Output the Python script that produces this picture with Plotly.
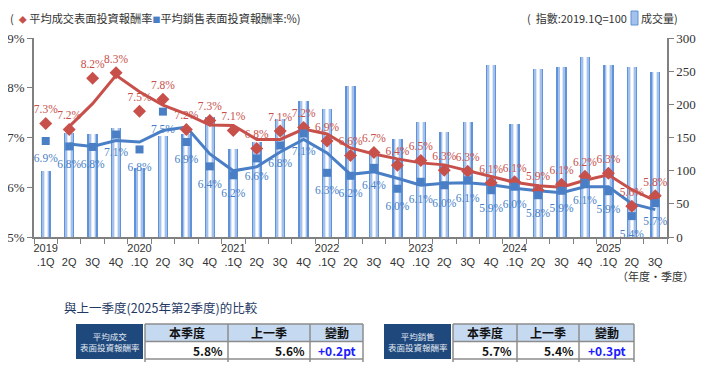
import plotly.graph_objects as go

# ---------------- data ----------------
years = ["2019", "2020", "2021", "2022", "2023", "2024", "2025"]
quarters = ["1Q", "2Q", "3Q", "4Q"]
categories = [f"{y}.{q}" for y in years for q in quarters][:27]

volume_index = [100, 157, 155, 165, 104, 152, 155, 181, 133, 143, 178, 205, 193, 227,
                126, 148, 173, 159, 174, 259, 171, 254, 256, 271, 259, 257, 248]

deal_yield = [7.28, 7.16, 8.19, 8.30, 7.53, 7.77, 7.16, 7.34, 7.14, 6.78, 7.13, 7.20, 6.93, 6.64,
              6.70, 6.44, 6.54, 6.34, 6.32, 6.09, 6.11, 5.94, 6.06, 6.22, 6.28, 5.62, 5.83]
sale_yield = [6.93, 6.82, 6.81, 7.06, 6.76, 7.52, 6.91, 6.42, 6.24, 6.58, 6.84, 7.08, 6.29, 6.23,
              6.39, 5.97, 6.11, 6.04, 6.14, 5.94, 6.01, 5.84, 5.93, 6.09, 5.92, 5.42, 5.68]

deal_trend = [None, 7.22, 7.68, 8.25, 7.92, 7.65, 7.47, 7.25, 7.24, 6.96, 6.96, 7.17, 7.07, 6.79,
              6.67, 6.57, 6.49, 6.45, 6.33, 6.21, 6.10, 6.03, 6.00, 6.14, 6.25, 5.95, 5.73]
sale_trend = [None, 6.87, 6.82, 6.94, 6.91, 7.14, 7.21, 6.67, 6.33, 6.41, 6.71, 6.96, 6.69, 6.26,
              6.31, 6.18, 6.04, 6.08, 6.09, 6.05, 5.98, 5.93, 5.89, 6.01, 6.01, 5.67, 5.55]

left_ticks = [5, 6, 7, 8, 9]
right_ticks = [0, 50, 100, 150, 200, 250, 300]

table_labels = ["平均成交<br>表面投資報酬率", "平均銷售<br>表面投資報酬率"]
table_headers = ["本季度", "上一季", "變動"]
this_quarter = [5.8, 5.7]
last_quarter = [5.6, 5.4]
change_pt = [0.2, 0.3]

# ---------------- styling ----------------
RED = "#c8504b"
BLUE = "#4a7fc6"
CJK = "Noto Sans CJK TC"
SERIF = "Liberation Serif"
SANS = "Liberation Sans"

OFF = 8  # page body margin
W, H = 712 - 2 * OFF, 377 - 2 * OFF
PL, PR, PT, PB = 34, 667, 38, 237  # plot area in screen pixels


def fx(px):
    return (px - PL) / (PR - PL)


def fy(py):
    return (PB - py) / (PB - PT)


ticktext = []
for c in categories:
    y, q = c.split(".")
    ticktext.append(f"{y}<br>.{q}" if q == "1Q" else f" <br>{q}")

fig = go.Figure()

# cylinder-like bars: layered overlays
for wdt, col in [(0.44, "#5f92d8"), (0.32, "#a3c1ea"), (0.17, "#dce8f8"), (0.05, "#ffffff")]:
    fig.add_trace(go.Bar(x=categories, y=volume_index, width=wdt, marker_color=col,
                         marker_line_width=0, yaxis="y", hoverinfo="skip", showlegend=False))

fig.add_trace(go.Scatter(x=categories, y=deal_trend, mode="lines", yaxis="y2",
                         line=dict(color=RED, width=3), showlegend=False))
fig.add_trace(go.Scatter(x=categories, y=sale_trend, mode="lines", yaxis="y2",
                         line=dict(color=BLUE, width=3), showlegend=False))

fig.add_trace(go.Scatter(x=categories, y=deal_yield, mode="markers+text", yaxis="y2",
                         marker=dict(symbol="diamond", size=10, color=RED),
                         text=[f"{v:.1f}%" for v in deal_yield], textposition="top center",
                         textfont=dict(family=SERIF, size=11.5, color=RED), showlegend=False))
fig.add_trace(go.Scatter(x=categories, y=sale_yield, mode="markers", yaxis="y2",
                         marker=dict(symbol="square", size=8, color=BLUE), showlegend=False))
# blue labels sit a little further below their squares
fig.add_trace(go.Scatter(x=categories, y=sale_yield, mode="markers+text", yaxis="y2",
                         marker=dict(symbol="square", size=19, color="rgba(0,0,0,0)"),
                         text=[f"{v:.1f}%" for v in sale_yield], textposition="bottom center",
                         textfont=dict(family=SERIF, size=11.5, color=BLUE), showlegend=False,
                         hoverinfo="skip"))

fig.update_layout(
    width=W, height=H,
    margin=dict(l=PL - OFF, r=W + OFF - PR, t=PT - OFF, b=H + OFF - PB, autoexpand=False),
    paper_bgcolor="white", plot_bgcolor="white",
    barmode="overlay", bargap=0,
    xaxis=dict(type="category", tickvals=categories, ticktext=ticktext, tickson="boundaries",
               ticks="outside", ticklen=5, tickcolor="#808080", showline=True, linecolor="#808080",
               linewidth=1.5, showgrid=False, tickangle=0, automargin=False,
               tickfont=dict(family=SANS, size=11, color="#333"),
               range=[-0.5, len(categories) - 0.5]),
    yaxis=dict(side="right", range=[0, 300], tickvals=right_ticks, showgrid=False, zeroline=False,
               showline=True, linecolor="#808080", linewidth=1.5, ticks="outside", ticklen=5,
               automargin=False, tickcolor="#808080", tickfont=dict(family=SERIF, size=13, color="#333")),
    yaxis2=dict(overlaying="y", side="left", range=[5, 9], tickvals=left_ticks,
                ticktext=[f"{v}%" for v in left_ticks], showgrid=False, zeroline=False,
                showline=True, linecolor="#808080", linewidth=1.5, ticks="outside", ticklen=5,
                automargin=False, tickcolor="#808080", tickfont=dict(family=SERIF, size=13, color="#333")),
)

ann = []
shapes = []

# top legends
ann.append(dict(xref="paper", yref="paper", x=fx(8), y=fy(18), xanchor="left", yanchor="middle",
                showarrow=False, font=dict(family=CJK, size=11.2, color="#333"),
                text=f"(&nbsp;&nbsp;<span style='color:{RED};font-size:8px'>◆</span>&nbsp;平均成交表面投資報酬率"
                     f"<span style='color:{BLUE};font-size:8px'>■</span>平均銷售表面投資報酬率:%)"))
ann.append(dict(xref="paper", yref="paper", x=fx(629), y=fy(18), xanchor="right", yanchor="middle",
                showarrow=False, font=dict(family=CJK, size=11, color="#333"),
                text="(&nbsp;&nbsp;指數:2019.1Q=100"))
ann.append(dict(xref="paper", yref="paper", x=fx(639), y=fy(18), xanchor="left", yanchor="middle",
                showarrow=False, font=dict(family=CJK, size=11, color="#333"),
                text="成交量)"))
shapes.append(dict(type="rect", xref="paper", yref="paper", x0=fx(631), x1=fx(638),
                   y0=fy(25), y1=fy(11), fillcolor="#a3c1ea", line=dict(color="#5f92d8", width=1)))

ann.append(dict(xref="paper", yref="paper", x=fx(696), y=fy(276), xanchor="right", yanchor="middle",
                showarrow=False, font=dict(family=CJK, size=11, color="#333"), text="（年度‧季度）"))

# comparison title
ann.append(dict(xref="paper", yref="paper", x=fx(62), y=fy(307), xanchor="left", yanchor="middle",
                showarrow=False, font=dict(family=CJK, size=12.5, color="#1f3864"),
                text="與上一季度(2025年第2季度)的比較"))

# tables
tables = [
    dict(block=(76, 143), cols=[145, 228, 310, 363]),
    dict(block=(384, 451), cols=[453, 517, 579, 634]),
]
y_top, y_mid, y_bot = 324, 341.5, 359
for i, t in enumerate(tables):
    b0, b1 = t["block"]
    shapes.append(dict(type="rect", xref="paper", yref="paper", x0=fx(b0), x1=fx(b1),
                       y0=fy(y_bot), y1=fy(y_top), fillcolor="#1f497d", line=dict(width=0)))
    ann.append(dict(xref="paper", yref="paper", x=fx((b0 + b1) / 2), y=fy((y_top + y_bot) / 2),
                    xanchor="center", yanchor="middle", showarrow=False, align="center",
                    font=dict(family=CJK, size=8.5, color="#e4eaf2"), text=table_labels[i]))
    cols = t["cols"]
    shapes.append(dict(type="rect", xref="paper", yref="paper", x0=fx(cols[0]), x1=fx(cols[-1]),
                       y0=fy(y_mid), y1=fy(y_top), fillcolor="#c5d9f1", line=dict(width=0)))
    for yy in (y_top, y_mid, y_bot):
        shapes.append(dict(type="line", xref="paper", yref="paper", x0=fx(cols[0]), x1=fx(cols[-1]),
                           y0=fy(yy), y1=fy(yy), line=dict(color="#8c8c8c", width=1.5)))
    for xx in cols:
        shapes.append(dict(type="line", xref="paper", yref="paper", x0=fx(xx), x1=fx(xx),
                           y0=fy(y_top), y1=fy(y_bot + 3), line=dict(color="#8c8c8c", width=1.5)))
    values = [f"{this_quarter[i]:.1f}%", f"{last_quarter[i]:.1f}%", f"+{change_pt[i]:.1f}pt"]
    for j in range(3):
        c0, c1 = cols[j], cols[j + 1]
        ann.append(dict(xref="paper", yref="paper", x=fx((c0 + c1) / 2), y=fy((y_top + y_mid) / 2),
                        xanchor="center", yanchor="middle", showarrow=False,
                        font=dict(family=CJK, size=12, color="#111"), text=f"<b>{table_headers[j]}</b>"))
        if j < 2:
            ann.append(dict(xref="paper", yref="paper", x=fx(c1 - 3), y=fy((y_mid + y_bot) / 2),
                            xanchor="right", yanchor="middle", showarrow=False,
                            font=dict(family=CJK, size=12, color="#111"), text=f"<b>{values[j]}</b>"))
        else:
            ann.append(dict(xref="paper", yref="paper", x=fx((c0 + c1) / 2), y=fy((y_mid + y_bot) / 2),
                            xanchor="center", yanchor="middle", showarrow=False,
                            font=dict(family=CJK, size=12, color="#1a1aff"), text=f"<b>{values[j]}</b>"))

fig.update_layout(annotations=ann, shapes=shapes)
fig.write_html("out.html")
